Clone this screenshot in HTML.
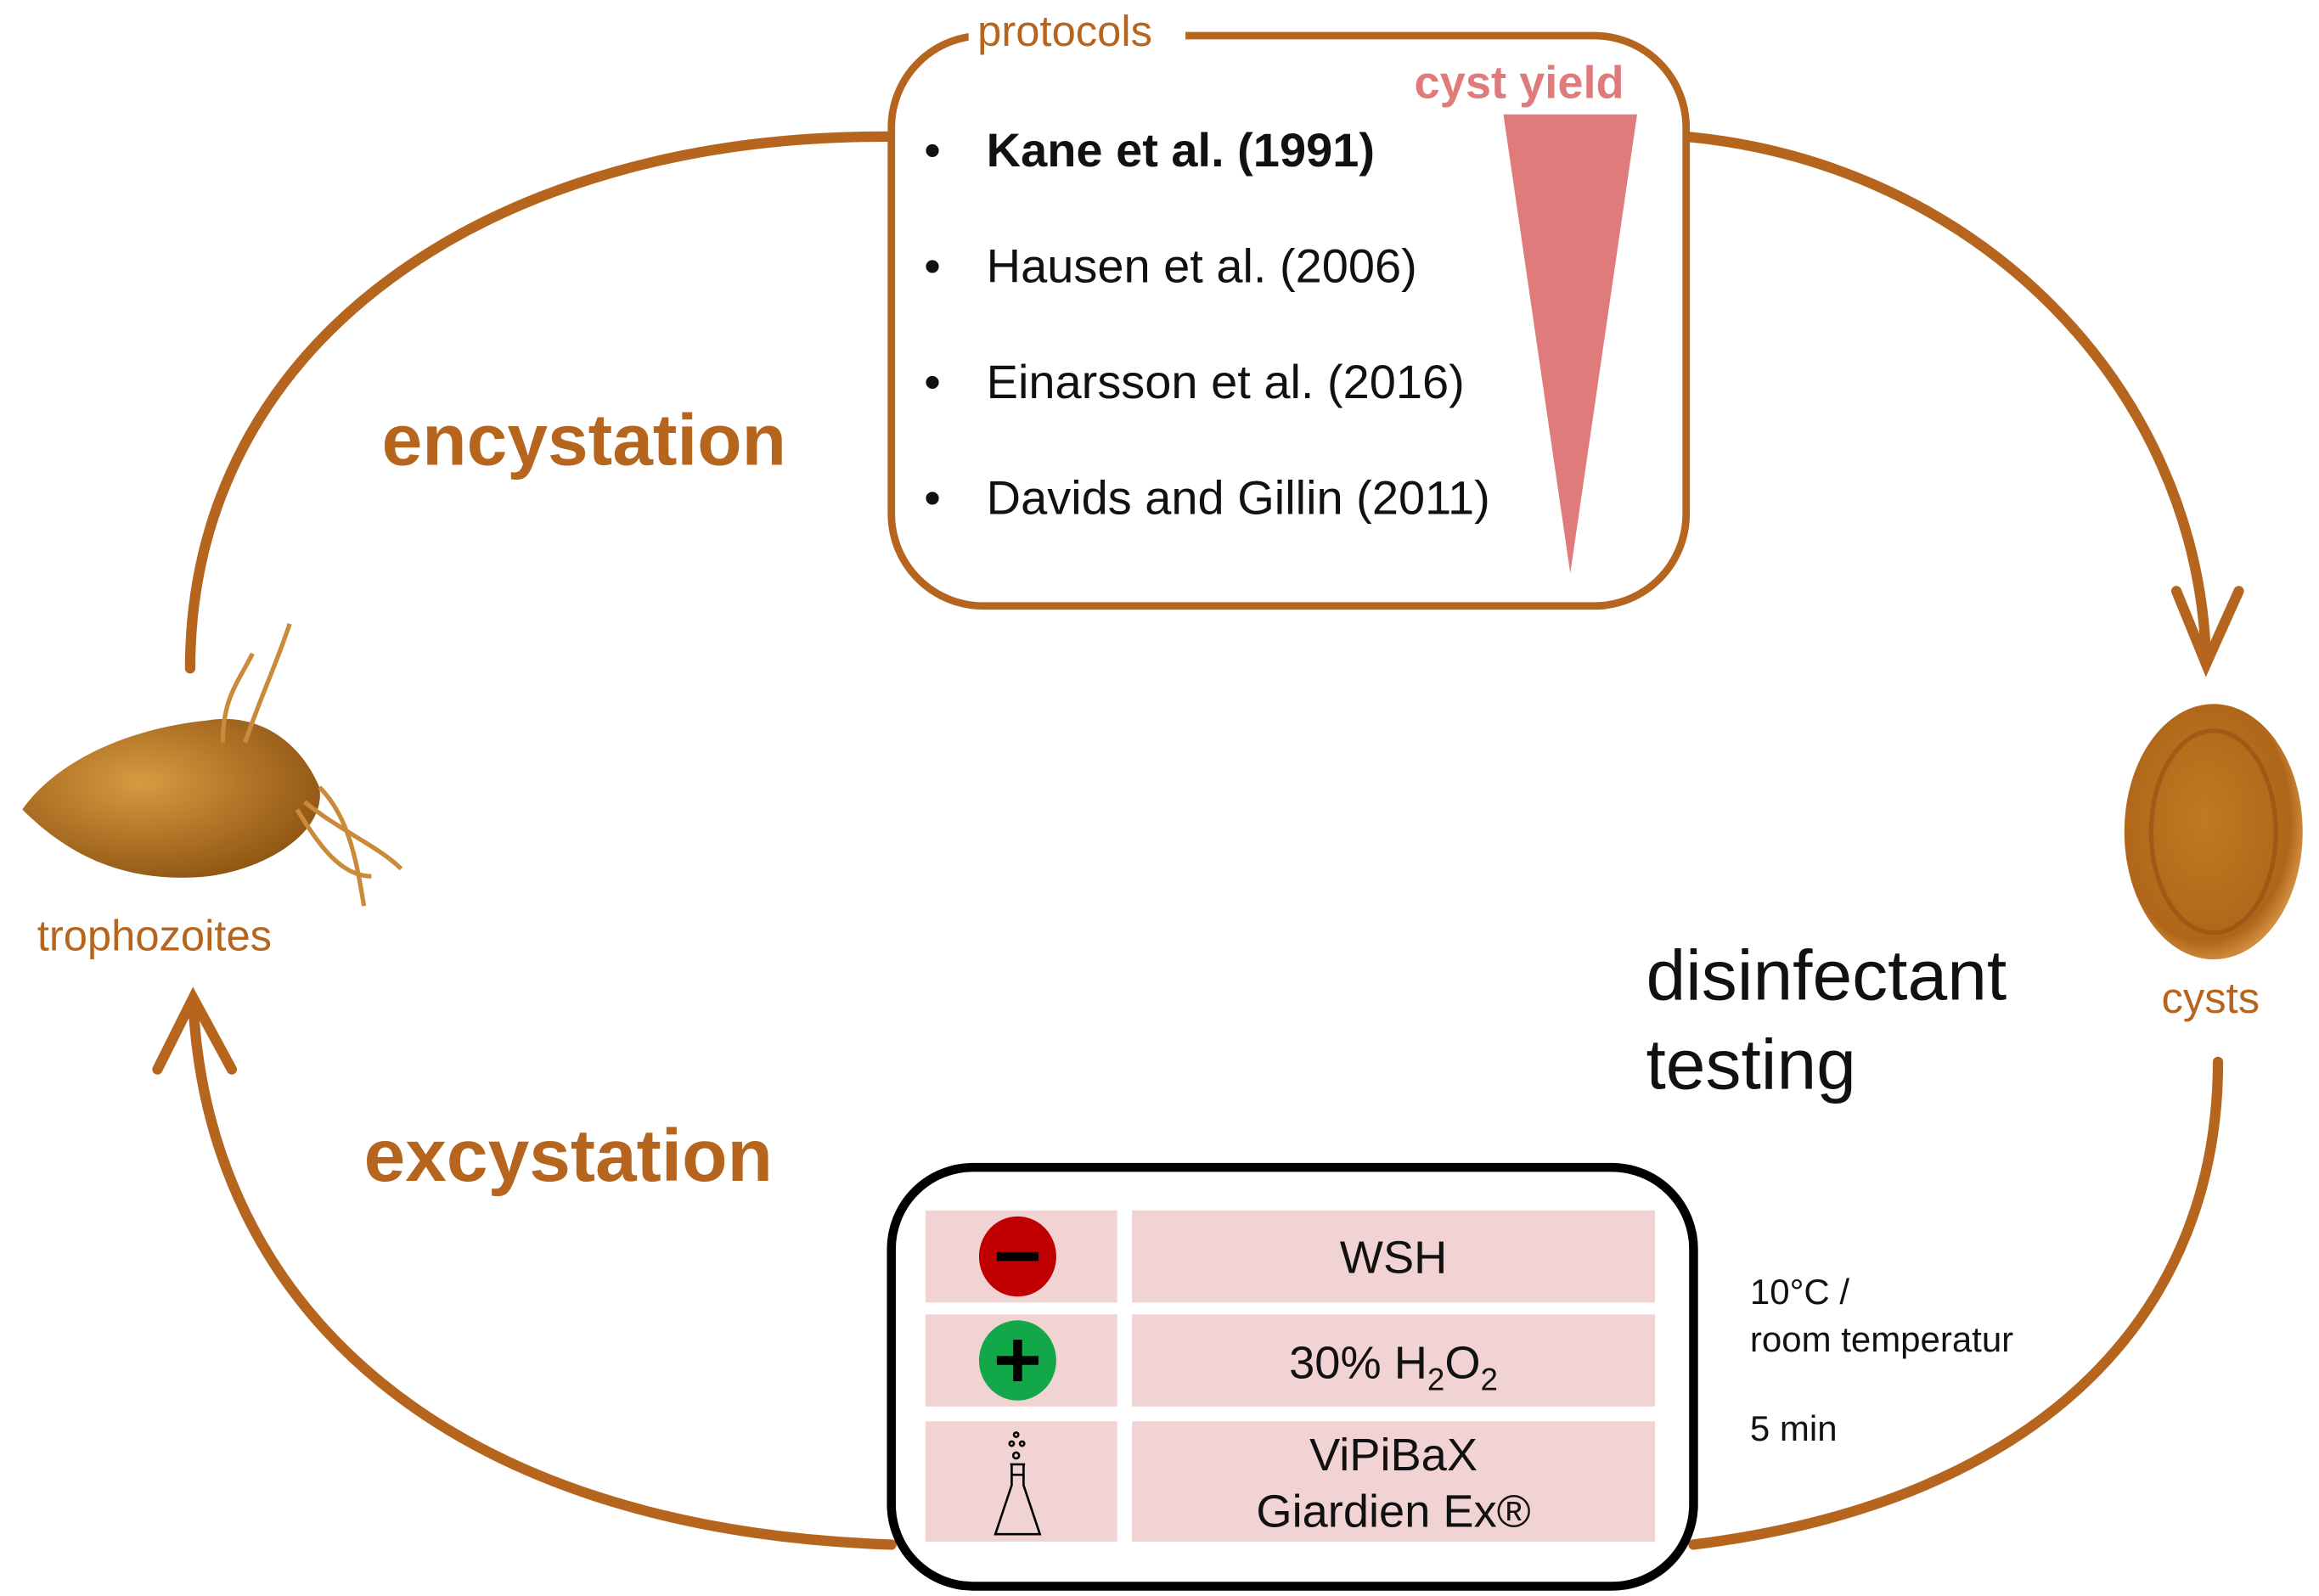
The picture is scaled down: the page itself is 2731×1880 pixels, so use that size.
<!DOCTYPE html>
<html><head><style>html,body{margin:0;padding:0;background:#fff}svg{display:block}</style></head>
<body>
<svg width="2731" height="1880" viewBox="0 0 1561 1074.6" preserveAspectRatio="none" xmlns="http://www.w3.org/2000/svg" font-family="Liberation Sans, sans-serif">
<defs>
<radialGradient id="cg" cx="0.45" cy="0.45" r="0.6"><stop offset="0" stop-color="#c07a20"/><stop offset="0.8" stop-color="#b0661a"/><stop offset="1" stop-color="#e0a050"/></radialGradient>
<radialGradient id="tg" cx="0.4" cy="0.4" r="0.7"><stop offset="0" stop-color="#d89a40"/><stop offset="1" stop-color="#8a5010"/></radialGradient>
</defs>
<g fill="none" stroke="#b5651d" stroke-width="7" stroke-linecap="round">
<path d="M128,450 C128,230 330,90 600,92"/>
<path d="M1135,92 C1330,110 1480,260 1485,445"/>
<path d="M1465,398 L1485,447 L1507,398"/>
<path d="M600,1040 C300,1030 140,880 130,675"/>
<path d="M106,720 L130,672 L156,720"/>
<path d="M1140,1040 C1380,1010 1493,880 1493,715"/>
</g>
<rect x="600" y="24" width="535" height="384" rx="62" fill="#fff" stroke="#b5651d" stroke-width="5"/>
<rect x="652" y="10" width="146" height="24" fill="#fff"/>
<text x="658" y="31" font-size="29" fill="#b5651d">protocols</text>
<text x="952" y="66" font-size="31" font-weight="bold" fill="#e07b7b">cyst yield</text>
<polygon points="1012,77 1102,77 1057,386" fill="#e07b7b"/>
<g font-size="32" fill="#111">
<text x="622" y="112">•</text><text x="664" y="112" font-weight="bold">Kane et al. (1991)</text>
<text x="622" y="190">•</text><text x="664" y="190">Hausen et al. (2006)</text>
<text x="622" y="268">•</text><text x="664" y="268">Einarsson et al. (2016)</text>
<text x="622" y="346">•</text><text x="664" y="346">Davids and Gillin (2011)</text>
</g>
<text x="257" y="313" font-size="49" font-weight="bold" fill="#b5651d">encystation</text>
<text x="245" y="795" font-size="50" font-weight="bold" fill="#b5651d">excystation</text>
<text x="25" y="640" font-size="29" fill="#b5651d">trophozoites</text>
<text x="1455" y="682" font-size="29" fill="#b5651d">cysts</text>
<text x="1108" y="673" font-size="48" fill="#111">disinfectant</text>
<text x="1108" y="733" font-size="48" fill="#111">testing</text>
<g font-size="24" fill="#111"><text x="1178" y="878">10°C /</text><text x="1178" y="910">room temperatur</text><text x="1178" y="970">5 min</text></g>
<ellipse cx="1490" cy="560" rx="60" ry="86" fill="url(#cg)"/>
<ellipse cx="1490" cy="560" rx="42" ry="68" fill="none" stroke="#8a4a10" stroke-width="3" opacity="0.5"/>
<path d="M15,545 C40,510 90,490 140,485 C170,480 200,495 215,530 C220,560 180,585 140,590 C90,595 50,580 15,545 Z" fill="url(#tg)"/>
<g fill="none" stroke="#c98a3a" stroke-width="3">
<path d="M150,500 C150,470 160,460 170,440"/><path d="M165,500 C175,470 185,450 195,420"/>
<path d="M215,530 C235,550 240,580 245,610"/><path d="M205,540 C230,560 255,570 270,585"/>
<path d="M200,545 C215,570 230,590 250,590"/>
</g>
<rect x="600" y="786" width="540" height="282" rx="55" fill="#fff" stroke="#000" stroke-width="6"/>
<g fill="#f2d3d3">
<rect x="623" y="815" width="129" height="62"/><rect x="762" y="815" width="352" height="62"/>
<rect x="623" y="885" width="129" height="62"/><rect x="762" y="885" width="352" height="62"/>
<rect x="623" y="957" width="129" height="81"/><rect x="762" y="957" width="352" height="81"/>
</g>
<ellipse cx="685" cy="846" rx="26" ry="27" fill="#c00000"/><rect x="671" y="843" width="28" height="6" fill="#000"/>
<ellipse cx="685" cy="916" rx="26" ry="27" fill="#12a84a"/><rect x="671" y="913" width="28" height="6" fill="#000"/><rect x="682" y="902" width="6" height="28" fill="#000"/>
<g fill="none" stroke="#000" stroke-width="1.5"><path d="M680,986 L690,986 M681,986 L681,1000 L670,1033 L700,1033 L689,1000 L689,986 M681,993 L689,993"/><circle cx="684" cy="980" r="2"/><circle cx="681" cy="972" r="1.5"/><circle cx="688" cy="972" r="1.5"/><circle cx="684" cy="966" r="1.5"/></g>
<g font-size="31" fill="#111" text-anchor="middle">
<text x="938" y="857">WSH</text>
<text x="938" y="928">30% H<tspan font-size="21" dy="8">2</tspan><tspan dy="-8">O</tspan><tspan font-size="21" dy="8">2</tspan></text>
<text x="938" y="990">ViPiBaX</text>
<text x="938" y="1028">Giardien Ex®</text>
</g>
</svg>
</body></html>
